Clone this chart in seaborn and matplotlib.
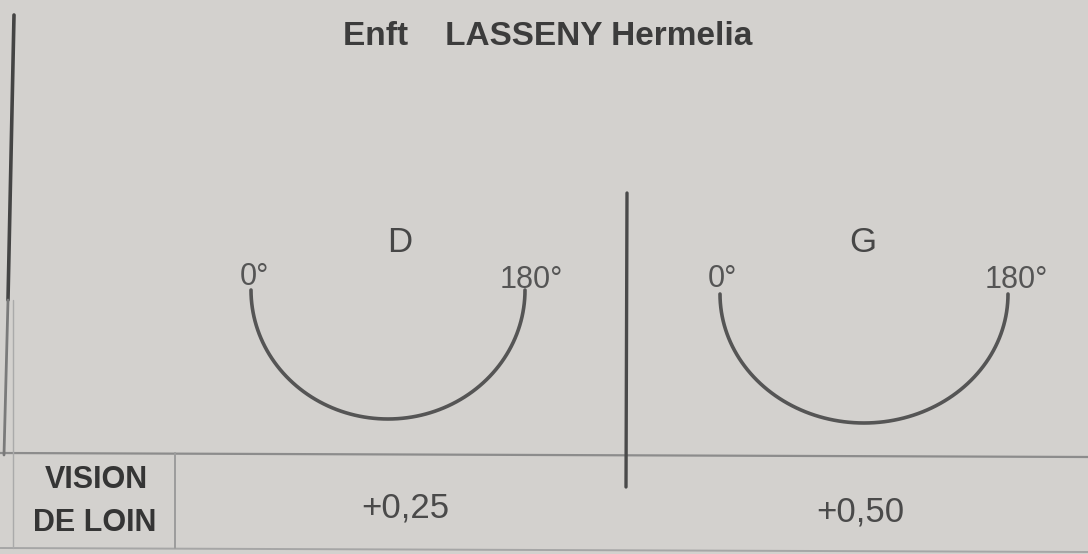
import numpy as np
import pandas as pd
import matplotlib.pyplot as plt
import seaborn as sns

title = "Enft    LASSENY Hermelia"
eyes = ["D", "G"]
axis_labels = ["0°", "180°"]
axis_range = [0, 180]          # degrees covered by each half-circle
row_label = "VISION\nDE LOIN"
sphere = ["+0,25", "+0,50"]

sns.set_theme(style="white")
plt.rcParams['font.family'] = ['Liberation Sans', 'DejaVu Sans']

bg = "#d3d1ce"
ink = "#3c3c3c"
line_col = "#555555"

fig = plt.figure(figsize=(10.88, 5.54), dpi=100, facecolor=bg)
ax = fig.add_axes([0, 0, 1, 1], facecolor=bg)
ax.set_xlim(0, 1088)
ax.set_ylim(554, 0)
ax.axis("off")

# half-circle layout for each eye: centre x, centre y, half width, depth
arc_layout = {"D": (388, 290, 137, 129), "G": (864, 294, 144, 129)}
letter_x = {"D": 400, "G": 863}
deg_pos = {"D": [(240, 285), (500, 288)], "G": [(708, 287), (985, 288)]}
value_x = {"D": 405, "G": 860}
value_base = {"D": 517, "G": 521}

for i, eye in enumerate(eyes):
    cx, cy, rx, ry = arc_layout[eye]
    theta = np.deg2rad(np.linspace(axis_range[0], axis_range[1], 181))
    df = pd.DataFrame({
        "x": cx - rx * np.cos(theta),
        "y": cy + ry * np.sin(theta),
    })
    sns.lineplot(data=df, x="x", y="y", sort=False, color=line_col,
                 linewidth=2.6, ax=ax)

    ax.text(letter_x[eye], 252, eye, ha="center", va="baseline",
            fontsize=25, color="#474747")
    for lab, (tx, ty) in zip(axis_labels, deg_pos[eye]):
        ax.text(tx, ty, lab, ha="left", va="baseline", fontsize=22,
                color="#555555")
    ax.text(value_x[eye], value_base[eye], sphere[i], ha="center",
            va="baseline", fontsize=25, color="#4a4a4a")

# title
ax.text(343, 45, title, ha="left", va="baseline", fontsize=24,
        fontweight="bold", color=ink)

# row label
vision, loin = row_label.split("\n")
ax.text(96, 488, vision, ha="center", va="baseline", fontsize=22,
        fontweight="bold", color="#353535")
ax.text(95, 531, loin, ha="center", va="baseline", fontsize=22,
        fontweight="bold", color="#353535")

# ruling of the form
ax.plot([0, 1088], [453, 457], color="#8c8c8c", linewidth=1.6)
ax.plot([0, 1088], [548, 552], color="#a6a6a6", linewidth=1.4)
ax.plot([175, 175], [453, 548], color="#9c9c9c", linewidth=1.4)
ax.plot([627, 626], [193, 487], color="#4a4a4a", linewidth=2.4)
ax.plot([14, 8], [15, 300], color="#444444", linewidth=2.6)
ax.plot([8, 4], [300, 455], color="#7a7a7a", linewidth=2.0)
ax.plot([13, 13], [300, 548], color="#aaaaaa", linewidth=1.0)

fig.savefig("out.png", dpi=100, facecolor=bg)
